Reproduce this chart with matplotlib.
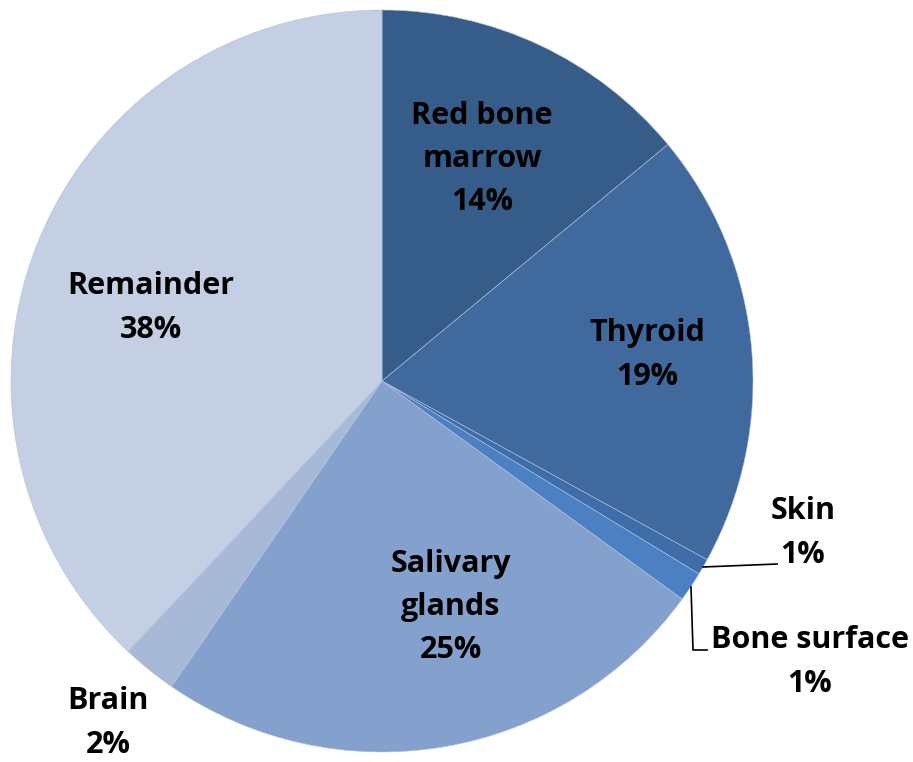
import matplotlib.pyplot as plt

# organ contributions (percent), clockwise from 12 o'clock
organs = ['Red bone\nmarrow', 'Thyroid', 'Skin', 'Bone surface',
          'Salivary\nglands', 'Brain', 'Remainder']
shares = [14.0, 19.0, 0.7, 1.3, 24.6, 2.4, 38.0]
colors = ['#365C89', '#40699E', '#3E6DAA', '#4B80C2',
          '#84A0CC', '#A8B8D7', '#C4CFE3']

# label anchor positions in pixel coords (x, y from top)
label_pos = [(482, 159), (647, 355), (803, 533), (810, 662),
             (451, 607), (108, 723), (151, 308)]

W, H = 913, 762
fig = plt.figure(figsize=(W / 100, H / 100), dpi=100)
ax = fig.add_axes([0, 0, 1, 1])

cx, cy, r = 382, H - 381, 371
ax.pie(shares, colors=colors, startangle=90, counterclock=False,
       center=(cx, cy), radius=r, frame=True,
       wedgeprops=dict(edgecolor='#b4c2dc', linewidth=0.4))
ax.set_xlim(0, W)
ax.set_ylim(0, H)
ax.set_aspect('equal')
ax.axis('off')

for name, val, (x, y) in zip(organs, shares, label_pos):
    ax.text(x, H - y, f'{name}\n{round(val):.0f}%', ha='center', va='center',
            fontsize=22, fontweight='bold', family='Open Sans',
            linespacing=1.58, color='black')

# leader lines for the two thin slices
ax.plot([703, 777], [H - 567, H - 564], color='black', lw=1.2)
ax.plot([691, 693, 707], [H - 587, H - 650, H - 650], color='black', lw=1.2)

fig.savefig('out.png', dpi=100)
